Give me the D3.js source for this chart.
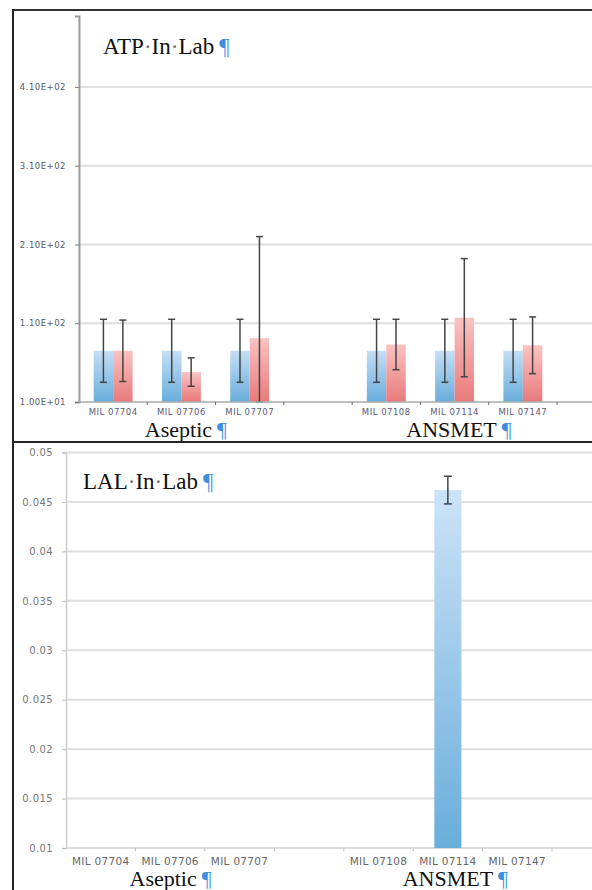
<!DOCTYPE html>
<html>
<head>
<meta charset="utf-8">
<script src="https://cdn.jsdelivr.net/npm/d3@7"></script>
<style>
  body { margin: 0; background: #fff; }
  svg { display: block; }
</style>
</head>
<body>
<div id="root"></div>
<script>
// sample slots, "" is the empty slot between the two groups
var samples = ["MIL 07704", "MIL 07706", "MIL 07707", "", "MIL 07108", "MIL 07114", "MIL 07147"];
var groupNames = ["Aseptic", "ANSMET"];
var groupMembers = [["MIL 07704", "MIL 07706", "MIL 07707"], ["MIL 07108", "MIL 07114", "MIL 07147"]];

// ATP in lab (two series per sample, with error bars)
var atpBlue    = [75, 75, 75, null, 75, 75, 75];
var atpBlueErr = [40, 40, 40, null, 40, 40, 40];
var atpRed     = [75, 48, 91, null, 83, 117, 82];
var atpRedErr  = [39, 18, 129, null, 32, 75, 36];
var atpTicks   = [10, 110, 210, 310, 410];

// LAL in lab
var lalValues = [0, 0, 0, null, 0, 0.0462, 0];
var lalErr    = [0, 0, 0, null, 0, 0.0014, 0];
var lalTicks  = [0.01, 0.015, 0.02, 0.025, 0.03, 0.035, 0.04, 0.045, 0.05];

var W = 592, H = 890;
var svg = d3.select("#root").append("svg").attr("width", W).attr("height", H);
var defs = svg.append("defs");

function grad(id, top, bottom) {
    var g = defs.append("linearGradient").attr("id", id)
        .attr("x1", 0).attr("y1", 0).attr("x2", 0).attr("y2", 1);
    g.append("stop").attr("offset", "0%").attr("stop-color", top);
    g.append("stop").attr("offset", "100%").attr("stop-color", bottom);
}
grad("gBlue", "#c4def5", "#68addb");
grad("gRed", "#fbc2c2", "#e87a7a");
grad("gBlue2", "#cce3f7", "#69aedb");

// excel style 1.10E+02
function sciLabel(v) {
    var e = Math.floor(Math.log10(v));
    var m = v / Math.pow(10, e);
    return m.toFixed(2) + "E+" + (e < 10 ? "0" : "") + e;
}

var serif = "'Liberation Serif', 'Times New Roman', serif";
var sans = "'DejaVu Sans', sans-serif";

// title with word-processor space dots and pilcrow
function docText(x, y, words) {
    var t = svg.append("text").attr("x", x).attr("y", y)
        .style("font-family", serif).style("font-size", "23px").style("fill", "#111");
    words.forEach(function(w, i) {
        if (i > 0) t.append("tspan").style("fill", "#666").text("\u00b7");
        t.append("tspan").text(w);
    });
    t.append("tspan").attr("dx", 5).style("fill", "#3b8ee0").text("\u00b6");
}

function groupLabel(cx, y, name) {
    var t = svg.append("text").attr("y", y)
        .style("font-family", serif).style("font-size", "22px").style("fill", "#111");
    var w = t.append("tspan").text(name);
    var len = w.node().getComputedTextLength();
    t.attr("x", cx - len / 2);
    t.append("tspan").attr("dx", 5).style("fill", "#3b8ee0").text("\u00b6");
}

function errorBar(g, cx, lo, hi, cap) {
    g.append("line").attr("x1", cx).attr("x2", cx).attr("y1", lo).attr("y2", hi)
        .attr("stroke", "#444").attr("stroke-width", 1.5);
    [lo, hi].forEach(function(yy) {
        g.append("line").attr("x1", cx - cap / 2).attr("x2", cx + cap / 2).attr("y1", yy).attr("y2", yy)
            .attr("stroke", "#444").attr("stroke-width", 1.5);
    });
}

///////////////////////////////////////////////////////////////////////
// top panel: ATP
var x1 = d3.scaleBand().domain(samples).range([79, 557]);
var y1 = d3.scaleLinear().domain([10, 500]).range([402, 16]);

var gTop = svg.append("g");
gTop.selectAll("line.grid").data(atpTicks.slice(1)).enter().append("line")
    .attr("x1", 79).attr("x2", W).attr("y1", y1).attr("y2", y1)
    .attr("stroke", "#dedede").attr("stroke-width", 2);

var bw1 = x1.bandwidth() * 0.285;
var rows1 = samples.map(function(s, i) { return { s: s, b: atpBlue[i], be: atpBlueErr[i], r: atpRed[i], re: atpRedErr[i] }; })
    .filter(function(d) { return d.b != null; });

gTop.selectAll("rect.blue").data(rows1).enter().append("rect")
    .attr("x", function(d) { return x1(d.s) + x1.bandwidth() / 2 - bw1; })
    .attr("y", function(d) { return y1(d.b); })
    .attr("width", bw1)
    .attr("height", function(d) { return y1(10) - y1(d.b); })
    .attr("fill", "url(#gBlue)");
gTop.selectAll("rect.red").data(rows1).enter().append("rect")
    .attr("x", function(d) { return x1(d.s) + x1.bandwidth() / 2; })
    .attr("y", function(d) { return y1(d.r); })
    .attr("width", bw1)
    .attr("height", function(d) { return y1(10) - y1(d.r); })
    .attr("fill", "url(#gRed)");

rows1.forEach(function(d) {
    var c = x1(d.s) + x1.bandwidth() / 2;
    errorBar(gTop, c - bw1 / 2, y1(Math.max(10, d.b - d.be)), y1(d.b + d.be), 7);
    errorBar(gTop, c + bw1 / 2, y1(Math.max(10, d.r - d.re)), y1(d.r + d.re), 7);
});

// axes
var yAxis1 = d3.axisLeft(y1).tickValues(atpTicks).tickFormat(sciLabel).tickSize(4).tickPadding(9);
var gy1 = gTop.append("g").attr("transform", "translate(79,0)").call(yAxis1);
gy1.select(".domain").attr("stroke", "#999").attr("stroke-width", 2);
gy1.selectAll(".tick line").attr("stroke", "#777");
gy1.selectAll(".tick text").style("font-family", sans).style("font-size", "8.5px")
    .style("letter-spacing", "0.5px").style("fill", "#555a6e");

gTop.append("line").attr("x1", 79).attr("x2", W).attr("y1", 402).attr("y2", 402)
    .attr("stroke", "#aaa").attr("stroke-width", 1.5);
gTop.selectAll("line.xt").data(samples).enter().append("line")
    .attr("x1", function(d) { return x1(d) + x1.bandwidth(); })
    .attr("x2", function(d) { return x1(d) + x1.bandwidth(); })
    .attr("y1", 402).attr("y2", 405).attr("stroke", "#666");
gTop.selectAll("text.xl").data(samples.filter(function(s) { return s; })).enter().append("text")
    .attr("x", function(d) { return x1(d) + x1.bandwidth() / 2; })
    .attr("y", 415).attr("text-anchor", "middle")
    .style("font-family", sans).style("font-size", "8.5px").style("letter-spacing", "0.5px")
    .style("fill", "#5a5a78").text(function(d) { return d; });

docText(103, 54, ["ATP", "In", "Lab"]);
groupMembers.forEach(function(m, i) {
    var cx = d3.mean(m, function(s) { return x1(s) + x1.bandwidth() / 2; });
    groupLabel(cx - 3, 437, groupNames[i]);
});

///////////////////////////////////////////////////////////////////////
// bottom panel: LAL
var x2 = d3.scaleBand().domain(samples).range([66, 552]);
var y2 = d3.scaleLinear().domain([0.01, 0.05]).range([848, 452.5]);

var gBot = svg.append("g");
gBot.selectAll("line.grid").data(lalTicks).enter().append("line")
    .attr("x1", 66).attr("x2", W).attr("y1", y2).attr("y2", y2)
    .attr("stroke", "#dedede").attr("stroke-width", 2);

var bw2 = x2.bandwidth() * 0.39;
var rows2 = samples.map(function(s, i) { return { s: s, v: lalValues[i], e: lalErr[i] }; })
    .filter(function(d) { return d.v != null && d.v > 0.01; });

gBot.selectAll("rect.bar").data(rows2).enter().append("rect")
    .attr("x", function(d) { return x2(d.s) + (x2.bandwidth() - bw2) / 2; })
    .attr("y", function(d) { return y2(d.v); })
    .attr("width", bw2)
    .attr("height", function(d) { return y2(0.01) - y2(d.v); })
    .attr("fill", "url(#gBlue2)");
rows2.forEach(function(d) {
    var c = x2(d.s) + x2.bandwidth() / 2;
    errorBar(gBot, c, y2(d.v - d.e), y2(d.v + d.e), 8);
});

var yAxis2 = d3.axisLeft(y2).tickValues(lalTicks).tickFormat(d3.format("")).tickSize(4).tickPadding(9);
var gy2 = gBot.append("g").attr("transform", "translate(66,0)").call(yAxis2);
gy2.select(".domain").attr("stroke", "#ccc").attr("stroke-width", 1.5);
gy2.selectAll(".tick line").attr("stroke", "#bbb");
gy2.selectAll(".tick text").style("font-family", sans).style("font-size", "10px")
    .style("letter-spacing", "0.4px").style("fill", "#777");

gBot.selectAll("line.xt").data(samples).enter().append("line")
    .attr("x1", function(d) { return x2(d) + x2.bandwidth(); })
    .attr("x2", function(d) { return x2(d) + x2.bandwidth(); })
    .attr("y1", 848).attr("y2", 851).attr("stroke", "#bbb");
gBot.selectAll("text.xl").data(samples.filter(function(s) { return s; })).enter().append("text")
    .attr("x", function(d) { return x2(d) + x2.bandwidth() / 2; })
    .attr("y", 865).attr("text-anchor", "middle")
    .style("font-family", sans).style("font-size", "10.5px").style("letter-spacing", "0.3px")
    .style("fill", "#666").text(function(d) { return d; });

docText(83, 489, ["LAL", "In", "Lab"]);
groupMembers.forEach(function(m, i) {
    var cx = d3.mean(m, function(s) { return x2(s) + x2.bandwidth() / 2; });
    groupLabel(cx + (i == 0 ? -7 : 0), 886, groupNames[i]);
});

///////////////////////////////////////////////////////////////////////
// page frame lines
svg.append("line").attr("x1", 13).attr("x2", W).attr("y1", 10).attr("y2", 10)
    .attr("stroke", "#333").attr("stroke-width", 2);
svg.append("line").attr("x1", 13).attr("x2", W).attr("y1", 442).attr("y2", 442)
    .attr("stroke", "#222").attr("stroke-width", 2);
svg.append("line").attr("x1", 13).attr("x2", 13).attr("y1", 9).attr("y2", H)
    .attr("stroke", "#222").attr("stroke-width", 2);
</script>
</body>
</html>
